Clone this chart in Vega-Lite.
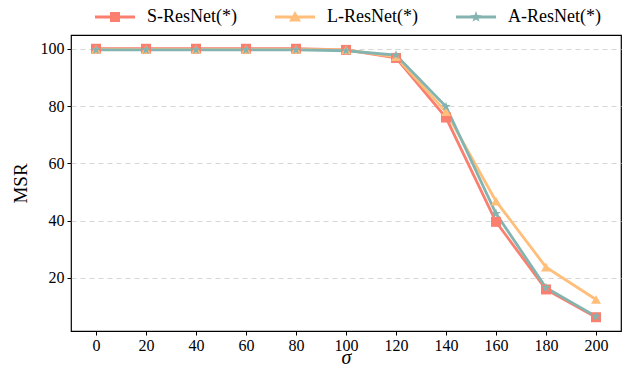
{
  "$schema": "https://vega.github.io/schema/vega-lite/v6.json",
  "width": 550,
  "height": 296,
  "autosize": {"type": "none"},
  "padding": {"left": 71, "top": 35, "right": 10, "bottom": 38},
  "config": {
    "font": "Liberation Serif",
    "view": {"stroke": "#000000", "strokeWidth": 1.2},
    "axis": {"labelFont": "Liberation Serif", "titleFont": "Liberation Serif", "labelFontSize": 16, "titleFontSize": 19, "titleFontWeight": "normal", "labelColor": "#000", "titleColor": "#000", "tickColor": "#000", "domain": false, "tickSize": 4},
    "legend": {"labelFont": "Liberation Serif", "labelFontSize": 18, "labelColor": "#000"}
  },
  "data": {"values": [
    {"sigma": 0, "model": "S-ResNet(*)", "msr": 100},
    {"sigma": 20, "model": "S-ResNet(*)", "msr": 100},
    {"sigma": 40, "model": "S-ResNet(*)", "msr": 100},
    {"sigma": 60, "model": "S-ResNet(*)", "msr": 100},
    {"sigma": 80, "model": "S-ResNet(*)", "msr": 100},
    {"sigma": 100, "model": "S-ResNet(*)", "msr": 99.6},
    {"sigma": 120, "model": "S-ResNet(*)", "msr": 96.8},
    {"sigma": 140, "model": "S-ResNet(*)", "msr": 76},
    {"sigma": 160, "model": "S-ResNet(*)", "msr": 39.6},
    {"sigma": 180, "model": "S-ResNet(*)", "msr": 16},
    {"sigma": 200, "model": "S-ResNet(*)", "msr": 6.3},
    {"sigma": 0, "model": "L-ResNet(*)", "msr": 99.8},
    {"sigma": 20, "model": "L-ResNet(*)", "msr": 99.8},
    {"sigma": 40, "model": "L-ResNet(*)", "msr": 99.8},
    {"sigma": 60, "model": "L-ResNet(*)", "msr": 99.8},
    {"sigma": 80, "model": "L-ResNet(*)", "msr": 99.8},
    {"sigma": 100, "model": "L-ResNet(*)", "msr": 99.6},
    {"sigma": 120, "model": "L-ResNet(*)", "msr": 97.2},
    {"sigma": 140, "model": "L-ResNet(*)", "msr": 78},
    {"sigma": 160, "model": "L-ResNet(*)", "msr": 46.8},
    {"sigma": 180, "model": "L-ResNet(*)", "msr": 23.8},
    {"sigma": 200, "model": "L-ResNet(*)", "msr": 12.5},
    {"sigma": 0, "model": "A-ResNet(*)", "msr": 99.6},
    {"sigma": 20, "model": "A-ResNet(*)", "msr": 99.6},
    {"sigma": 40, "model": "A-ResNet(*)", "msr": 99.6},
    {"sigma": 60, "model": "A-ResNet(*)", "msr": 99.6},
    {"sigma": 80, "model": "A-ResNet(*)", "msr": 99.6},
    {"sigma": 100, "model": "A-ResNet(*)", "msr": 99.3},
    {"sigma": 120, "model": "A-ResNet(*)", "msr": 97.8},
    {"sigma": 140, "model": "A-ResNet(*)", "msr": 79.8},
    {"sigma": 160, "model": "A-ResNet(*)", "msr": 42.5},
    {"sigma": 180, "model": "A-ResNet(*)", "msr": 16.6},
    {"sigma": 200, "model": "A-ResNet(*)", "msr": 6.6}
  ]},
  "encoding": {
    "x": {"field": "sigma", "type": "quantitative", "scale": {"domain": [-10, 210], "nice": false, "zero": false},
      "axis": {"values": [0, 20, 40, 60, 80, 100, 120, 140, 160, 180, 200], "title": "σ", "titleFontStyle": "italic", "titleFontSize": 20, "titlePadding": -6, "grid": false, "labelPadding": 2}},
    "y": {"field": "msr", "type": "quantitative", "scale": {"domain": [1.5, 104.8], "nice": false, "zero": false},
      "axis": {"values": [20, 40, 60, 80, 100], "title": "MSR", "titlePadding": 10, "grid": true, "gridDash": [5, 4], "gridColor": "#d6d6d6", "gridWidth": 1.2, "labelPadding": 3}}
  },
  "layer": [
    {"mark": {"type": "line", "strokeWidth": 2.8},
      "encoding": {
        "color": {"field": "model", "type": "nominal", "legend": null,
          "scale": {"domain": ["S-ResNet(*)", "L-ResNet(*)", "A-ResNet(*)"], "range": ["#FA7F6F", "#FFBE7A", "#84B4B0"]}}}},
    {"mark": {"type": "point", "filled": true, "opacity": 1, "size": 100},
      "encoding": {
        "color": {"field": "model", "type": "nominal", "legend": null,
          "scale": {"domain": ["S-ResNet(*)", "L-ResNet(*)", "A-ResNet(*)"], "range": ["#FA7F6F", "#FFBE7A", "#84B4B0"]}},
        "shape": {"field": "model", "type": "nominal", "legend": null,
          "scale": {"domain": ["S-ResNet(*)", "L-ResNet(*)", "A-ResNet(*)"], "range": ["square", "triangle-up", "M0,-1L0.235,-0.324L0.951,-0.309L0.38,0.124L0.588,0.809L0,0.4L-0.588,0.809L-0.38,0.124L-0.951,-0.309L-0.235,-0.324Z"]}}}},
    {"mark": {"type": "point", "filled": true, "opacity": 1, "size": 0},
      "encoding": {
        "color": {"field": "model", "type": "nominal",
          "scale": {"domain": ["S-ResNet(*)", "L-ResNet(*)", "A-ResNet(*)"], "range": ["#FA7F6F", "#FFBE7A", "#84B4B0"]},
          "legend": {"orient": "none", "legendX": 24, "legendY": -38, "direction": "horizontal", "title": null, "symbolSize": 1600, "symbolStrokeWidth": 0, "columnPadding": 38, "labelOffset": 12, "symbolOpacity": 1}},
        "shape": {"field": "model", "type": "nominal",
          "scale": {"domain": ["S-ResNet(*)", "L-ResNet(*)", "A-ResNet(*)"], "range": [
            "M-1,-0.075H1V0.075H-1ZM-0.25,-0.25H0.25V0.25H-0.25Z",
            "M-1,-0.075H1V0.075H-1ZM0,-0.3L0.3,0.22H-0.3Z",
            "M-1,-0.075H1V0.075H-1ZM0,-0.3L0.07,-0.097L0.285,-0.093L0.114,0.037L0.176,0.243L0,0.12L-0.176,0.243L-0.114,0.037L-0.285,-0.093L-0.07,-0.097Z"]},
          "legend": {"orient": "none", "legendX": 24, "legendY": -38, "direction": "horizontal", "title": null, "symbolSize": 1600, "symbolStrokeWidth": 0, "columnPadding": 38, "labelOffset": 12, "symbolOpacity": 1}}}}
  ],
  "resolve": {"scale": {"shape": "independent", "color": "independent"}}
}
